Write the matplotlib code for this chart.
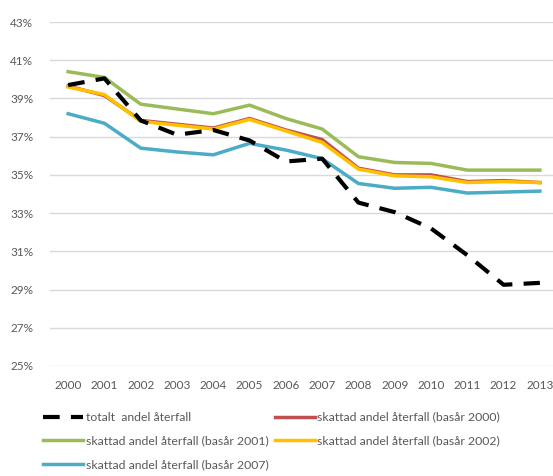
import numpy as np
import matplotlib.pyplot as plt
from matplotlib.ticker import FuncFormatter

plt.rcParams['font.family'] = ['Lato', 'DejaVu Sans']

years = list(range(2000, 2014))

totalt = [39.7, 40.05, 37.85, 37.1, 37.35, 36.8, 35.7, 35.85, 33.55, 33.05, 32.2, 30.8, 29.25, 29.35]
bas2000 = [39.65, 39.15, 37.85, 37.65, 37.45, 37.95, 37.35, 36.85, 35.35, 35.0, 35.0, 34.65, 34.7, 34.6]
bas2001 = [40.4, 40.1, 38.7, 38.45, 38.2, 38.65, 37.95, 37.4, 35.95, 35.65, 35.6, 35.25, 35.25, 35.25]
bas2002 = [39.6, 39.2, 37.8, 37.6, 37.4, 37.9, 37.3, 36.7, 35.3, 34.95, 34.9, 34.6, 34.65, 34.6]
bas2007 = [38.2, 37.7, 36.4, 36.2, 36.05, 36.65, 36.3, 35.85, 34.55, 34.3, 34.35, 34.05, 34.1, 34.15]

fig = plt.figure(figsize=(5.53, 4.76), dpi=100, facecolor='white')
ax = fig.add_axes([50/553, 1-366/476, 508/553, 344/476])

grey = '#595959'
l0, = ax.plot(years, totalt, color='black', lw=3, ls=(0, (4, 2.7)), label='totalt  andel återfall', zorder=6)
l1, = ax.plot(years, bas2000, color='#C0504D', lw=2.5, label='skattad andel återfall (basår 2000)', zorder=3)
l2, = ax.plot(years, bas2001, color='#9BBB59', lw=2.5, label='skattad andel återfall (basår 2001)', zorder=3)
l3, = ax.plot(years, bas2002, color='#FFC000', lw=2.5, label='skattad andel återfall (basår 2002)', zorder=4)
l4, = ax.plot(years, bas2007, color='#4BACC6', lw=2.5, label='skattad andel återfall (basår 2007)', zorder=3)

ax.set_xlim(1999.5, 2013.5)
ax.set_ylim(25, 43)
ax.set_xticks(years)
ax.set_yticks(np.arange(25, 44, 2))
ax.yaxis.set_major_formatter(FuncFormatter(lambda v, p: '%d%%' % v))
ax.grid(axis='y', color='#D9D9D9', lw=1)
ax.set_axisbelow(True)
for s in ax.spines.values():
    s.set_visible(False)
ax.tick_params(length=0, colors=grey, labelsize=8.5)
ax.tick_params(axis='y', pad=12)
ax.tick_params(axis='x', pad=10)

# row-wise order: totalt/2000, 2001/2002, 2007
handles = [l0, l2, l4, l1, l3]
fig.legend(handles, [h.get_label() for h in handles], loc='upper left',
           bbox_to_anchor=(0.058, 0.158), ncol=2, frameon=False,
           fontsize=8.8, labelcolor=grey, handlelength=3.3, handletextpad=0.2,
           columnspacing=0.5, labelspacing=1.05)

fig.savefig('out.png', dpi=100)
